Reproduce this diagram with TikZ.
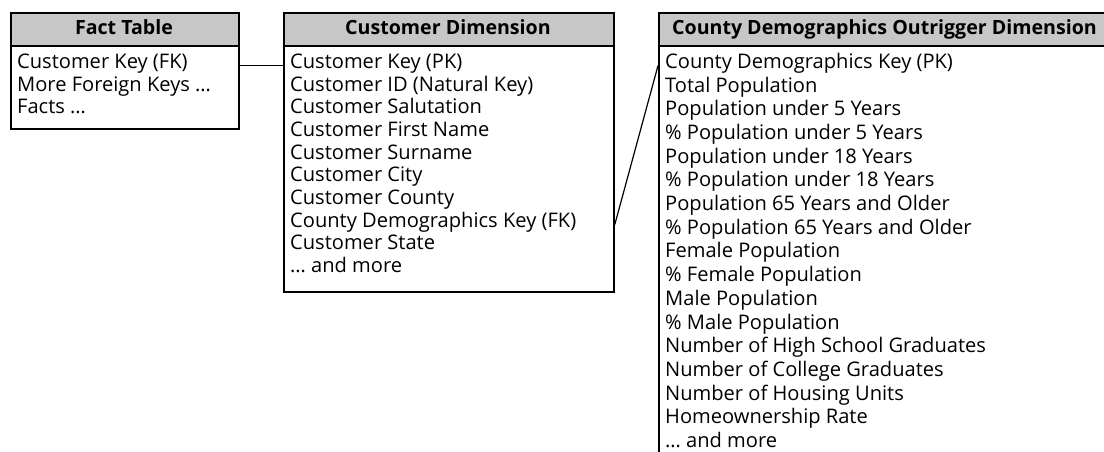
\documentclass[tikz,border=0pt]{standalone}
\usepackage{fontspec}
\setmainfont{Open Sans}
\begin{document}
\begin{tikzpicture}[x=1pt,y=-1pt,
  frame/.style={draw=black, line width=1.8pt, fill=white, inner sep=0pt, anchor=north west},
  hdr/.style={draw=black, line width=1.8pt, fill=black!22, inner sep=0pt, anchor=north west, minimum height=33pt},
  hdrtext/.style={font=\fontsize{19.6}{22}\selectfont\bfseries, anchor=base, inner sep=0pt},
  rowtext/.style={font=\fontsize{20.1}{22}\selectfont, anchor=base west, inner sep=0pt},
  conn/.style={draw=black, line width=1.2pt}]
\clip (0,0) rectangle (1104,451);
\fill[white] (0,0) rectangle (1104,451);
% Fact table
\node[frame, minimum width=228pt, minimum height=116pt] (fact) at (10,12) {};
\node[hdr, minimum width=228pt] (facth) at (10,12) {};
\node[hdrtext] (factt) at (124,34) {Fact Table};
\foreach \t [count=\i] in {Customer Key (FK), More Foreign Keys …, Facts …}
  \node[rowtext] (f\i) at (17,{68.3+(\i-1)*22.7}) {\t};
% Customer dimension
\node[frame, minimum width=330pt, minimum height=279pt] (cust) at (283,12) {};
\node[hdr, minimum width=330pt] (custh) at (283,12) {};
\node[hdrtext] (custt) at (448,34) {Customer Dimension};
\foreach \t [count=\i] in {Customer Key (PK), Customer ID (Natural Key), Customer Salutation, Customer First Name, Customer Surname, Customer City, Customer County, County Demographics Key (FK), Customer State, … and more}
  \node[rowtext] (c\i) at (290,{68.3+(\i-1)*22.7}) {\t};
% Outrigger
\node[frame, minimum width=453pt, minimum height=470pt] (outr) at (658,12) {};
\node[hdr, minimum width=453pt] (outrh) at (658,12) {};
\node[hdrtext] (outrt) at (884.5,34) {County Demographics Outrigger Dimension};
\foreach \t [count=\i] in {County Demographics Key (PK), Total Population, Population under 5 Years, \% Population under 5 Years, Population under 18 Years, \% Population under 18 Years, Population 65 Years and Older, \% Population 65 Years and Older, Female Population, \% Female Population, Male Population, \% Male Population, Number of High School Graduates, Number of College Graduates, Number of Housing Units, Homeownership Rate, … and more}
  \node[rowtext] (o\i) at (665,{68.3+(\i-1)*23.7}) {\t};
% connectors
\draw[conn] (fact.east |- f1.mid) -- (cust.west |- c1.mid);
\draw[conn] (cust.east |- c8.mid) -- (outr.west |- o1.mid);
\end{tikzpicture}
\end{document}
